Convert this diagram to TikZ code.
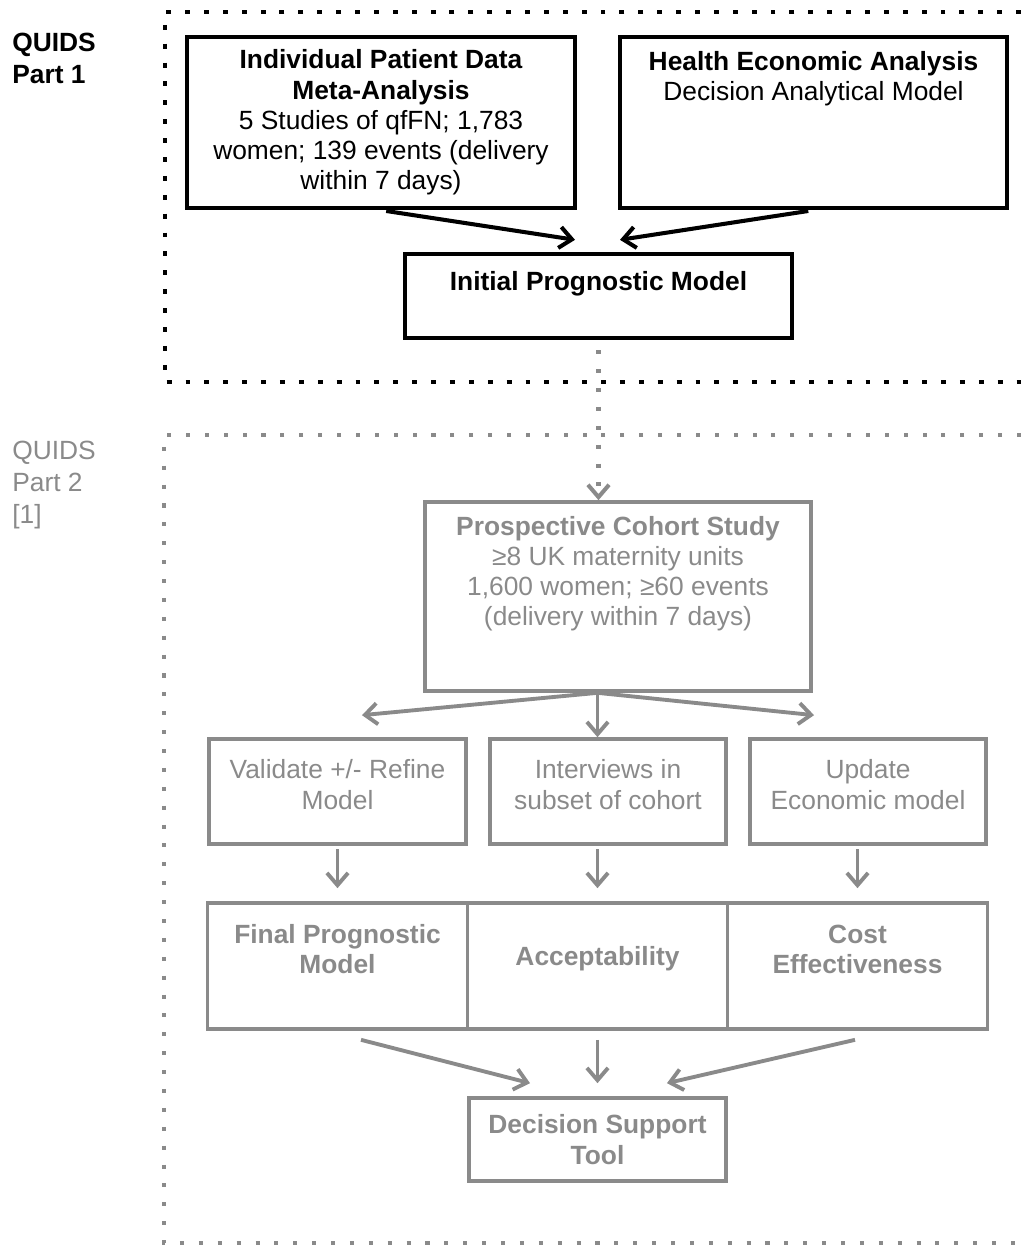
\documentclass[tikz,border=0pt]{standalone}
\usepackage{fontspec}
\setmainfont{Liberation Sans}
\usepackage{tikz}
\usetikzlibrary{arrows.meta}
\definecolor{qgray}{RGB}{138,138,138}
\tikzset{
>={Straight Barb[length=7pt,width=12pt]},
  blackbox/.style={
    rectangle,
    draw=black, line width=2.5pt,
    inner sep=0pt,
    align=center,
    font=\fontsize{15pt}{17.2pt}\selectfont},
  graybox/.style={
    rectangle,
    draw=qgray, line width=2.1pt,
    text=qgray,
    inner sep=0pt,
    align=center,
    font=\fontsize{15pt}{17.2pt}\selectfont},
  blackline/.style={draw=black, line width=2.3pt, ->},
  grayline/.style={draw=qgray, line width=2.2pt, ->},
  blackdots/.style={draw=black, line width=2.8pt, dash pattern=on 2.8pt off 7.95pt},
  graydots/.style={draw=qgray, line width=2.3pt, dash pattern=on 2.3pt off 8.45pt},
  partlabel/.style={anchor=north west, inner sep=0pt, align=left,
    font=\fontsize{15pt}{18pt}\selectfont},
}

\begin{document}
\begin{tikzpicture}[x=0.02cm, y=-0.02cm]
     \useasboundingbox (0,0) rectangle (1021,1245);
     % QUIDS part 1
     \draw[blackdots] (1021,12) -- (165,12) -- (165,382) -- (1021,382);
     \node[partlabel] (PartOneLabel) at (12,33) {\textbf{QUIDS}\\\textbf{Part 1}};
     \node[blackbox, minimum width=7.76cm, minimum height=3.42cm] (PatientData) at (381,122.5)
       {\textbf{Individual Patient Data}\\\textbf{Meta-Analysis}\\5 Studies of qfFN; 1,783\\women; 139 events (delivery\\within 7 days)};
     \node[blackbox, minimum width=7.74cm, minimum height=3.42cm, text depth=53pt] (HealthEcon) at (813.5,122.5)
       {\textbf{Health Economic Analysis}\\Decision Analytical Model};
     \node[blackbox, minimum width=7.74cm, minimum height=1.68cm, text depth=16.6pt] (InitModel) at (598.5,296)
       {\textbf{Initial Prognostic Model}};
     \draw[blackline, shorten <=3pt] (PatientData.south) -- ([xshift=-0.47cm, yshift=0.24cm]InitModel.north);
     \draw[blackline, shorten <=3pt] (HealthEcon.south) -- ([xshift=0.43cm, yshift=0.24cm]InitModel.north);
     % QUIDS part 2
     \draw[graydots] (1021,435) -- (164,435) -- (164,1243) -- (1021,1243);
     \node[partlabel, text=qgray] (PartTwoLabel) at (12,441) {QUIDS\\Part 2\\{[1]}};
     \node[graybox, minimum width=7.72cm, minimum height=3.78cm, text depth=29pt] (CohortStudy) at (618,596.5)
       {\textbf{Prospective Cohort Study}\\≥8 UK maternity units\\1,600 women; ≥60 events\\(delivery within 7 days)};
     \draw[graydots, dash phase=5.05pt, ->] (InitModel.south) -- (InitModel.south |- CohortStudy.north);
     \node[graybox, minimum width=5.14cm, minimum height=2.1cm, text depth=8pt] (Validate) at (337.5,791.5)
       {Validate +/- Refine\\Model};
     \node[graybox, minimum width=4.72cm, minimum height=2.1cm, text depth=8pt] (Interviews) at (608,791.5)
       {Interviews in\\subset of cohort};
     \node[graybox, minimum width=4.72cm, minimum height=2.1cm, text depth=8pt] (UpdateEcon) at (868,791.5)
       {Update\\Economic model};
     \node[graybox, minimum width=5.2cm, minimum height=2.52cm, text depth=19.3pt] (FinalModel) at (337.5,966)
       {\textbf{Final Prognostic}\\\textbf{Model}};
     \node[graybox, minimum width=5.2cm, minimum height=2.52cm, text depth=11pt] (Acceptability) at (597.5,966)
       {\textbf{Acceptability}};
     \node[graybox, minimum width=5.2cm, minimum height=2.52cm, text depth=19.3pt] (CostEff) at (857.5,966)
       {\textbf{Cost}\\\textbf{Effectiveness}};
     \draw[grayline] (CohortStudy.south -| Acceptability.north) -- ([xshift=0.49cm, yshift=0.44cm]Validate.north);
     \draw[grayline] (CohortStudy.south -| Acceptability.north) -- (Interviews.north -| Acceptability.north);
     \draw[grayline] (CohortStudy.south -| Acceptability.north) -- ([xshift=-1.08cm, yshift=0.44cm]UpdateEcon.north);
     \draw[grayline, shorten <=2pt, shorten >=0.26cm] (Validate.south) -- (FinalModel.north);
     \draw[grayline, shorten <=2pt, shorten >=0.26cm] (Interviews.south -| Acceptability.north) -- (Acceptability.north);
     \draw[grayline, shorten <=2pt, shorten >=0.26cm] (UpdateEcon.south -| CostEff.north) -- (CostEff.north);
     \node[graybox, minimum width=5.14cm, minimum height=1.66cm] (DecisionTool) at (597.5,1139.5)
       {\textbf{Decision Support}\\\textbf{Tool}};
     \draw[grayline] ([xshift=0.47cm, yshift=-0.18cm]FinalModel.south) -- ([xshift=-1.35cm, yshift=0.26cm]DecisionTool.north);
     \draw[grayline, shorten <=0.18cm, shorten >=0.26cm] (Acceptability.south) -- (DecisionTool.north);
     \draw[grayline] ([xshift=-0.05cm, yshift=-0.18cm]CostEff.south) -- ([xshift=1.39cm, yshift=0.26cm]DecisionTool.north);
\end{tikzpicture}
\end{document}
